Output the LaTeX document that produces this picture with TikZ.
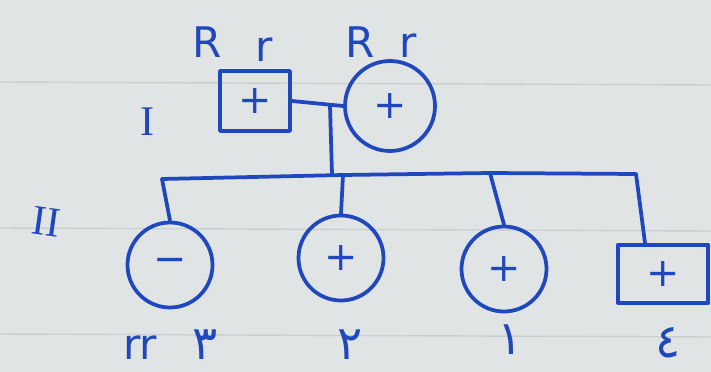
\documentclass[tikz,border=0pt]{standalone}
\usepackage{fontspec}
\setmainfont{DejaVu Sans}
\newfontfamily\arabicfont[Script=Arabic]{DejaVu Sans}
\newfontfamily\romanfont{Liberation Serif}

\definecolor{ink}{RGB}{32,72,190}
\definecolor{paper}{RGB}{224,228,228}
\definecolor{rule}{RGB}{203,208,209}

\tikzset{
	pen/.style={draw=ink, line width=3.2pt, line cap=round, line join=round},
	male/.style={pen, rectangle, inner sep=0pt, text=ink, font=\fontsize{34}{34}\selectfont},
	female/.style={pen, circle, inner sep=0pt, minimum size=2.55cm, text=ink, font=\fontsize{34}{34}\selectfont},
	gen/.style={text=ink, font=\fontsize{36}{36}\selectfont},
	num/.style={text=ink, font=\arabicfont\fontsize{40}{40}\selectfont},
	level/.style={text=ink, font=\romanfont\fontsize{36}{36}\selectfont}
}

\begin{document}
\begin{tikzpicture}[x=0.03cm, y=-0.03cm]

	% lined paper
	\fill[paper] (0,0) rectangle (711,372);
	\useasboundingbox (0,0) rectangle (711,372);
	\foreach \y in {82,228,334}
		\draw[rule, line width=1.2pt] (0,\y) -- (711,\y+3);

	% generation I
	\node[level] (one) at (148,122) {I};
	\node[male, minimum width=2.1cm, minimum height=1.8cm] (dad) at (255,101) {+};
	\node[female, minimum size=2.7cm] (mum) at (390,106) {+};
	\node[gen] (dadR) at (207,42) {R};
	\node[gen] (dadr) at (264,50) {r};
	\node[gen] (mumR) at (360,42) {R};
	\node[gen] (mumr) at (408,46) {r};

	% generation II
	\node[level, rotate=-8] (two) at (46,222) {II};
	\node[female] (c1) at (170,265) {−};
	\node[female] (c2) at (341,258) {+};
	\node[female] (c3) at (504,269) {+};
	\node[male, minimum width=2.7cm, minimum height=1.75cm] (c4) at (663,274) {+};

	\node[gen] (c1g) at (140,348) {rr};
	\node[num] (c1n) at (205,345) {٣};
	\node[num] (c2n) at (350,345) {٢};
	\node[num] (c3n) at (510,340) {١};
	\node[num] (c4n) at (668,343) {٤};

	% mating and sibship lines
	\coordinate (mate) at (330,106);
	\coordinate (sib) at (332,174);
	\coordinate (sibL) at (162,179);
	\coordinate (sib2) at (343,175);
	\coordinate (sib3) at (490,173);
	\coordinate (sibR) at (636,174);

	\draw[pen] (dad.east) -- (mum.west);
	\draw[pen] (mate) -- (sib);
	\draw[pen] (sibL) -- (sib2) -- (sib3) -- (sibR);
	\draw[pen] (sibL) -- (c1.north);
	\draw[pen] (sib2) -- (c2.north);
	\draw[pen] (sib3) -- (c3.north);
	\draw[pen] (sibR) -- (c4.north west -| 645,0);

\end{tikzpicture}
\end{document}
